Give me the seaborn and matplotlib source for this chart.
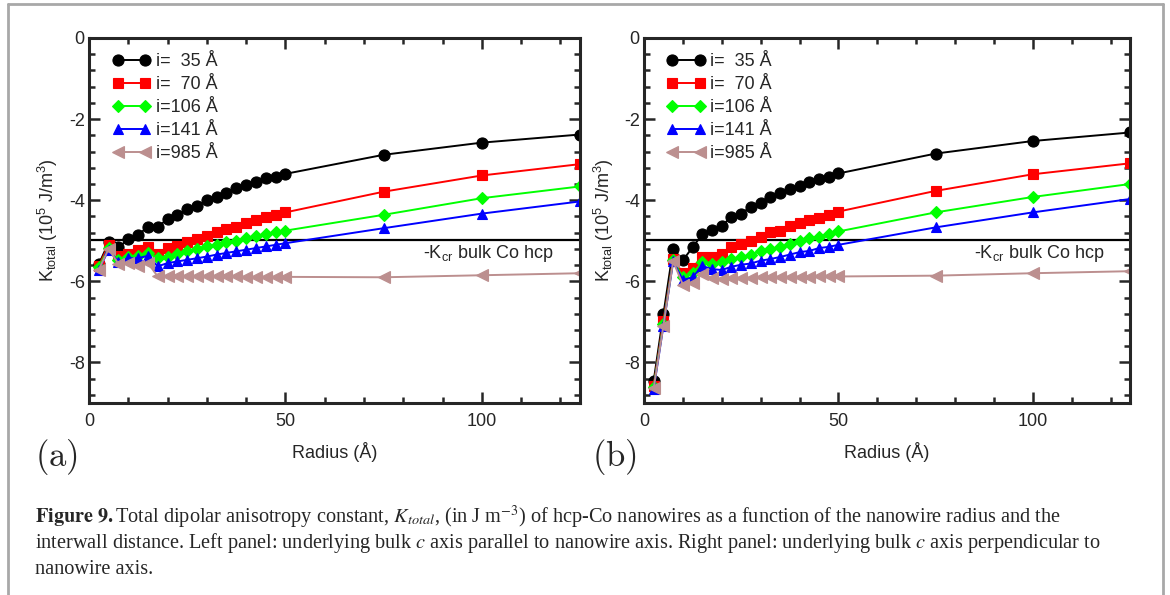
import pandas as pd
import seaborn as sns
import matplotlib.pyplot as plt
from matplotlib.ticker import MultipleLocator, AutoMinorLocator
from matplotlib.lines import Line2D

# radio del nanohilo (Å)
radius = [2.5, 5, 7.5, 10, 12.5, 15, 17.5, 20, 22.5, 25, 27.5, 30, 32.5, 35,
          37.5, 40, 42.5, 45, 47.5, 50, 75, 100, 125]

labels = ["i=  35 Å", "i=  70 Å", "i=106 Å", "i=141 Å", "i=985 Å"]
colors = ["#000000", "#ff0000", "#00ff00", "#0000ff", "#bc8f8f"]
markers = ["o", "s", "D", "^", "<"]
msizes = [8, 6.5, 6, 7.5, 8.5]

# panel (a): eje c paralelo
a_35 = [-5.58, -5.04, -5.16, -4.96, -4.86, -4.65, -4.65, -4.47, -4.36, -4.22, -4.14, -3.99,
        -3.91, -3.81, -3.70, -3.62, -3.54, -3.46, -3.42, -3.35, -2.88, -2.58, -2.38]
a_70 = [-5.62, -5.10, -5.37, -5.32, -5.22, -5.16, -5.32, -5.18, -5.12, -5.04, -4.96, -4.88,
        -4.79, -4.71, -4.65, -4.56, -4.48, -4.42, -4.36, -4.30, -3.79, -3.39, -3.11]
a_106 = [-5.65, -5.18, -5.47, -5.40, -5.37, -5.30, -5.43, -5.39, -5.32, -5.26, -5.21, -5.14,
         -5.10, -5.04, -5.00, -4.93, -4.89, -4.83, -4.79, -4.75, -4.36, -3.95, -3.66]
a_141 = [-5.72, -5.22, -5.53, -5.43, -5.43, -5.37, -5.63, -5.55, -5.51, -5.47, -5.43, -5.39,
         -5.34, -5.30, -5.26, -5.22, -5.18, -5.14, -5.10, -5.06, -4.69, -4.33, -4.03]
a_985 = [-5.71, -5.20, -5.57, -5.55, -5.62, -5.55, -5.88, -5.87, -5.87, -5.87, -5.88, -5.88,
         -5.88, -5.88, -5.88, -5.89, -5.89, -5.89, -5.89, -5.89, -5.90, -5.85, -5.80]

# panel (b): eje c perpendicular
b_35 = [-8.45, -6.81, -5.20, -5.48, -5.16, -4.84, -4.74, -4.63, -4.41, -4.33, -4.16, -4.06,
        -3.92, -3.83, -3.73, -3.65, -3.56, -3.48, -3.42, -3.34, -2.85, -2.54, -2.33]
b_70 = [-8.57, -6.97, -5.45, -5.80, -5.66, -5.39, -5.39, -5.33, -5.15, -5.08, -5.00, -4.90,
        -4.79, -4.77, -4.63, -4.55, -4.49, -4.43, -4.36, -4.28, -3.77, -3.36, -3.09]
b_106 = [-8.60, -7.04, -5.48, -5.90, -5.80, -5.53, -5.57, -5.53, -5.45, -5.40, -5.34, -5.26,
         -5.20, -5.15, -5.08, -5.00, -4.93, -4.90, -4.84, -4.77, -4.30, -3.92, -3.60]
b_141 = [-8.65, -7.09, -5.51, -5.97, -5.90, -5.62, -5.70, -5.72, -5.64, -5.59, -5.56, -5.49,
         -5.45, -5.40, -5.34, -5.28, -5.25, -5.18, -5.15, -5.10, -4.67, -4.30, -3.97]
b_985 = [-8.63, -7.09, -5.51, -6.08, -6.04, -5.81, -5.92, -5.94, -5.92, -5.91, -5.91, -5.90,
         -5.90, -5.90, -5.89, -5.89, -5.89, -5.88, -5.88, -5.88, -5.86, -5.80, -5.75]

k_cr = -4.98

sns.set_style("ticks")
plt.rcParams["font.family"] = ["Liberation Sans", "DejaVu Sans"]
plt.rcParams["mathtext.fontset"] = "custom"
plt.rcParams["mathtext.rm"] = "Liberation Sans"
plt.rcParams["mathtext.it"] = "Liberation Sans:italic"
plt.rcParams["mathtext.bf"] = "Liberation Sans:bold"
plt.rcParams["axes.unicode_minus"] = False

fig = plt.figure(figsize=(11.7, 5.95), dpi=100)
ax_a = fig.add_axes([89 / 1170, 192 / 595, 491 / 1170, 365 / 595])
ax_b = fig.add_axes([644 / 1170, 192 / 595, 486 / 1170, 365 / 595])

panels = [(ax_a, [a_35, a_70, a_106, a_141, a_985]),
          (ax_b, [b_35, b_70, b_106, b_141, b_985])]

for ax, series in panels:
    for vals, lab, c, m, ms in zip(series, labels, colors, markers, msizes):
        df = pd.DataFrame({"radius": radius, "K": vals})
        sns.lineplot(data=df, x="radius", y="K", ax=ax, color=c, marker=m,
                     markersize=ms, markeredgecolor=c, markeredgewidth=0.8,
                     linewidth=1.4, label=lab)
    ax.axhline(k_cr, color="black", lw=1.6, zorder=1)
    ax.text(85, -5.32, "-K$_{\\mathrm{cr}}$ bulk Co hcp", fontsize=13, va="center", ha="left")

    ax.set_xlim(0, 125)
    ax.set_ylim(-9, 0)
    ax.xaxis.set_major_locator(MultipleLocator(50))
    ax.xaxis.set_minor_locator(AutoMinorLocator(5))
    ax.yaxis.set_major_locator(MultipleLocator(2))
    ax.yaxis.set_minor_locator(AutoMinorLocator(5))
    ax.tick_params(which="both", direction="in", top=True, right=True, width=1.8, labelsize=13)
    ax.tick_params(which="major", length=8)
    ax.tick_params(which="minor", length=4.5)
    ax.tick_params(axis="x", pad=7)
    ax.tick_params(axis="y", pad=3)
    for sp in ax.spines.values():
        sp.set_linewidth(2.2)
        sp.set_visible(True)

    ax.set_xlabel("Radius (Å)", fontsize=13, labelpad=9)
    ax.set_ylabel("K$_{\\mathrm{total}}$ (10$^{5}$ J/m$^{3}$)", fontsize=13, labelpad=6)

    ax.legend(loc="upper left", bbox_to_anchor=(0.04, 0.968), frameon=False, numpoints=2,
              fontsize=13, handlelength=2.1, handletextpad=0.3, labelspacing=0.33,
              borderpad=0.2, borderaxespad=0)

# etiquetas de panel
fig.text(35 / 1170, 1 - 457 / 595, "$\\mathrm{(a)}$", fontsize=25, va="center", ha="left",
         math_fontfamily="cm")
fig.text(592 / 1170, 1 - 457 / 595, "$\\mathrm{(b)}$", fontsize=25, va="center", ha="left",
         math_fontfamily="cm")

# pie de figura
cap_font = ["Liberation Serif", "DejaVu Serif"]
cap_lines = [
    "$\\mathbf{Figure\\ 9.}$Total dipolar anisotropy constant, $K_{total}$, (in J m$^{-3}$) of hcp-Co nanowires as a function of the nanowire radius and the",
    "interwall distance. Left panel: underlying bulk $c$ axis parallel to nanowire axis. Right panel: underlying bulk $c$ axis perpendicular to",
    "nanowire axis.",
]
for k, line in enumerate(cap_lines):
    fig.text(35 / 1170, 1 - (517 + 26 * k) / 595, line, fontsize=14.6, va="center", ha="left",
             family=cap_font, math_fontfamily="stix")

# marco gris
frame_kw = dict(transform=fig.transFigure, color="#a8a8a8", lw=2)
fig.add_artist(Line2D([8 / 1170, 8 / 1170], [0, 1 - 4 / 595], **frame_kw))
fig.add_artist(Line2D([8 / 1170, 1163 / 1170], [1 - 4 / 595, 1 - 4 / 595], **frame_kw))
fig.add_artist(Line2D([1163 / 1170, 1163 / 1170], [0, 1 - 4 / 595], **frame_kw))

fig.savefig("out.png", dpi=100)
